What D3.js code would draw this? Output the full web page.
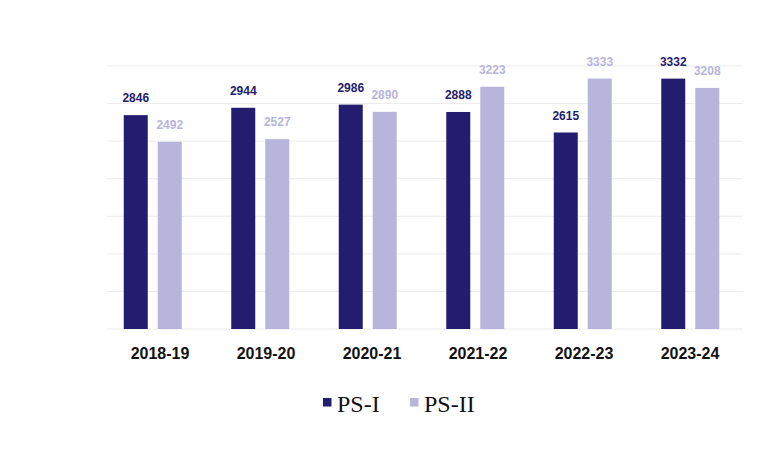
<!DOCTYPE html>
<html><head><meta charset="utf-8">
<script src="https://cdn.jsdelivr.net/npm/d3@7"></script>
<style>body{margin:0;background:#fff}svg{display:block}</style>
</head><body>
<svg id="c" width="778" height="453"></svg>
<script>
const categories = ["2018-19","2019-20","2020-21","2021-22","2022-23","2023-24"];
const seriesNames = ["PS-I","PS-II"];
const ps1 = [2846,2944,2986,2888,2615,3332];
const ps2 = [2492,2527,2890,3223,3333,3208];
const yTicks = [0,500,1000,1500,2000,2500,3000,3500];
const colors = ["#241c6e","#b7b5db"];

const svg = d3.select("#c");
const m = {left:107, right:35, top:66, bottom:124};
const W = 778, H = 453;
// label scale
const xL = d3.scaleBand().domain(categories).range([m.left, W-m.right]);
// bar group scale
const x0 = d3.scaleBand().domain(categories).range([99, 744]);
const x1 = d3.scaleBand().domain(seriesNames).range([0, 58]).paddingInner(10/34);
const y = d3.scaleLinear().domain([0,3500]).range([H-m.bottom, m.top]);

svg.append("g").selectAll("line").data(yTicks).join("line")
  .attr("x1", m.left).attr("x2", W-m.right)
  .attr("y1", d=>y(d)).attr("y2", d=>y(d))
  .attr("stroke", "#ebebeb").attr("stroke-width", 1);

const data = categories.map((c,i)=>({c, vals:[ps1[i], ps2[i]]}));
const g = svg.append("g").selectAll("g").data(data).join("g")
  .attr("transform", d=>`translate(${x0(d.c)+x0.bandwidth()/2-29},0)`);

g.selectAll("rect").data(d=>d.vals.map((v,k)=>({v,k}))).join("rect")
  .attr("x", d=>x1(seriesNames[d.k]))
  .attr("width", x1.bandwidth())
  .attr("y", d=>y(d.v))
  .attr("height", d=>y(0)-y(d.v))
  .attr("fill", d=>colors[d.k]);

g.selectAll("text").data(d=>d.vals.map((v,k)=>({v,k}))).join("text")
  .attr("x", d=>x1(seriesNames[d.k])+x1.bandwidth()/2)
  .attr("y", d=>y(d.v)-13)
  .attr("text-anchor","middle")
  .attr("font-family","Liberation Sans, Arial, sans-serif")
  .attr("font-size", 12).attr("font-weight","bold")
  .attr("fill", d=>colors[d.k])
  .text(d=>d.v);

const xAxis = d3.axisBottom(xL).tickSize(0).tickPadding(0);
const ax = svg.append("g").attr("transform", `translate(0,${y(0)})`).call(xAxis);
ax.select(".domain").remove();
ax.selectAll("text").attr("dy", null).attr("y", 30)
  .attr("font-family","Liberation Sans, Arial, sans-serif")
  .attr("font-size", 16).attr("font-weight","bold").attr("fill","#111");

const legend = svg.append("g");
const lx = [323, 410];
seriesNames.forEach((s,i)=>{
  legend.append("rect").attr("x", lx[i]).attr("y", 398).attr("width", 8.5).attr("height", 8.5).attr("fill", colors[i]);
  legend.append("text").attr("x", lx[i]+14).attr("y", 412)
    .attr("font-family","Liberation Serif, Times New Roman, serif")
    .attr("font-size", 24).attr("fill","#111").text(s);
});
</script>
</body></html>
